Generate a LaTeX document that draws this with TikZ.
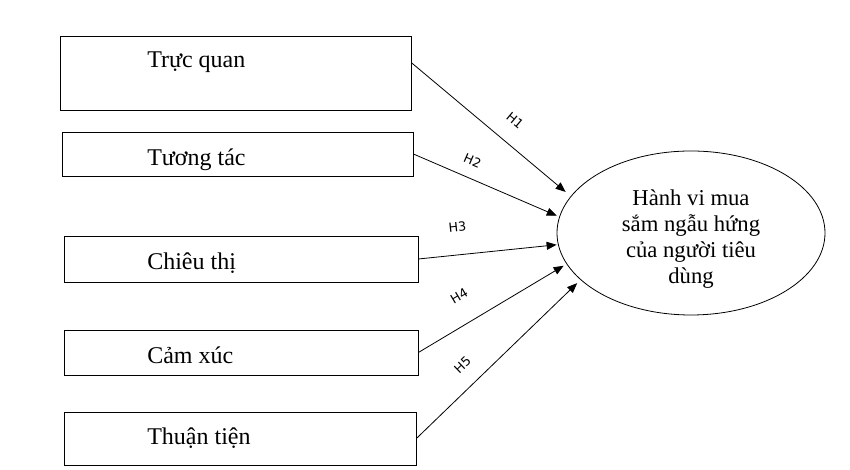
\documentclass[tikz,border=0pt]{standalone}
\usepackage{fontspec}
\setmainfont{Liberation Serif}
\newfontfamily\hfont{DejaVu Sans}
\usetikzlibrary{positioning,shapes.geometric,arrows.meta,calc}

\begin{document}
\begin{tikzpicture}[
    x=0.75pt, y=0.75pt,
    box/.style={
        draw, rectangle, inner sep=0pt, line width=0.6pt
    },
    txt/.style={anchor=base west, inner sep=0pt, font=\fontsize{18}{21}\selectfont},
    target/.style={
        draw, ellipse, inner sep=0pt, line width=0.6pt,
        minimum width=201pt, minimum height=123pt
    },
    arrow/.style={-{Triangle[length=7.5pt,width=6pt]}, line width=0.6pt},
    hyp/.style={sloped, inner sep=0pt, font=\hfont\fontsize{9.5}{11}\selectfont}
]
\useasboundingbox (0,0) rectangle (850,470);

% các nhân tố bên trái
\node[box, minimum width=263.25pt, minimum height=55.5pt] (truc) at (235.5,397) {};
\node[box, minimum width=263.25pt, minimum height=33pt] (tuong) at (237.5,316) {};
\node[box, minimum width=265.5pt, minimum height=34.5pt] (chieu) at (241,211) {};
\node[box, minimum width=265.5pt, minimum height=33.75pt] (cam) at (241,117.5) {};
\node[box, minimum width=264pt, minimum height=39.75pt] (thuan) at (240,31.5) {};

\node[txt] (trucT) at (147,402) {Trực quan};
\node[txt] (tuongT) at (147,304) {Tương tác};
\node[txt] (chieuT) at (147,200) {Chiêu thị};
\node[txt] (camT) at (147,106) {Cảm xúc};
\node[txt] (thuanT) at (147,25) {Thuận tiện};

% biến phụ thuộc
\node[target] (hanhvi) at (691,237) {};
\node[align=center, inner sep=0pt, font=\fontsize{17}{19.5}\selectfont]
    (hanhviT) at ([yshift=-4.5pt]hanhvi.center)
    {Hành vi mua\\sắm ngẫu hứng\\của người tiêu\\dùng};

% các giả thuyết
\draw[arrow, shorten >=5pt] (truc.east |- trucT) -- (hanhvi.163)
    node[hyp, pos=0.56, above=13pt] {H1};
\draw[arrow, shorten >=2pt] (tuong.east) -- (hanhvi.173)
    node[hyp, pos=0.36, above=9pt] {H2};
\draw[arrow, shorten >=1pt] (chieu.east) -- (hanhvi.185)
    node[hyp, pos=0.30, above=17pt] {H3};
\draw[arrow, shorten >=2.5pt] (cam.east) -- (hanhvi.194.5)
    node[hyp, pos=0.37, above=17pt] {H4};
\draw[arrow, shorten >=3.5pt] (thuan.east) -- (hanhvi.203)
    node[hyp, pos=0.37, above=12pt] {H5};

\end{tikzpicture}
\end{document}
